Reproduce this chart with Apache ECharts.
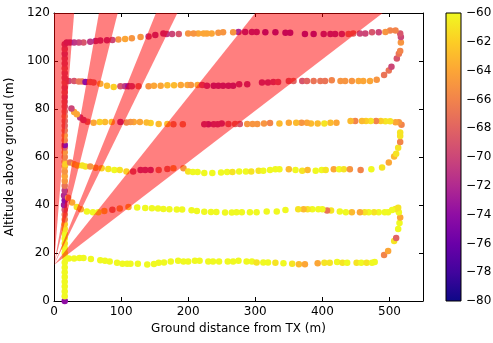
<!DOCTYPE html>
<html>
<head>
<meta charset="utf-8">
<script src="https://cdn.jsdelivr.net/npm/echarts@6/dist/echarts.min.js"></script>
<style>
  html, body { margin: 0; padding: 0; background: #fff; }
  #chart { width: 493px; height: 343px; }
</style>
</head>
<body>
<div id="chart"></div>
<script>
// flight path samples: [ground distance (m), altitude (m), RSSI (dBm)]
var climbLeft = [
	[16, 0, -74], [16, 2, -60], [16, 4, -60], [16, 6, -60], [16, 8, -60], [16, 10, -60], [16, 12, -60],
	[16, 14, -60], [16, 16, -60], [17, 18, -60], [16, 20, -60], [16, 22, -60], [16, 24, -61], [16, 26, -60],
	[16, 28, -60], [16, 30, -61], [16, 32, -62], [16, 34, -66], [16, 36, -67], [16, 38, -69], [15, 40, -73],
	[16, 42, -74], [15, 44, -72], [16, 46, -71], [16, 48, -67], [16, 50, -65], [16, 52, -64], [16, 54, -65],
	[16, 56, -64], [16, 58, -65], [16, 60, -66], [16, 62, -65], [16, 64, -68], [16, 65, -74], [16, 67, -66],
	[16, 69, -65], [16, 71, -67], [16, 73, -68], [16, 75, -68], [16, 77, -67], [16, 79, -68], [16, 81, -69],
	[16, 83, -69], [16, 85, -70], [16, 87, -69], [16, 89, -70], [16, 91, -69], [16, 93, -70], [16, 95, -70],
	[16, 97, -69], [16, 99, -70], [16, 101, -70], [16, 103, -71], [16, 105, -70], [16, 107, -71]
];
var pass16 = [
	[22, 17.7, -60], [30, 17.7, -60], [38, 17.9, -60], [44, 17.9, -60], [55, 17.5, -60], [69, 17, -60],
	[76, 16.8, -60], [83, 16.5, -60], [94, 15.9, -60], [102, 15.5, -60], [109, 15.5, -60], [114, 15.5, -60],
	[125, 15.5, -60], [139, 15.2, -60], [149, 15.4, -60], [156, 15.9, -60], [164, 16, -60], [174, 16.5, -60],
	[185, 16.8, -60], [193, 16.5, -60], [200, 16.5, -60], [210, 16.8, -60], [217, 16.8, -60], [230, 16.5, -60],
	[237, 16.5, -60], [246, 16.5, -60], [259, 16.5, -60], [267, 16.5, -60], [275, 16.8, -60], [287, 16.5, -60],
	[295, 16.5, -60], [302, 16, -61], [312, 16, -60], [319, 16, -60], [330, 15.9, -61], [342, 15.7, -60],
	[355, 15.5, -61], [365, 15.3, -63], [374, 15.3, -64], [393, 15.7, -64], [403, 15.9, -61], [411, 15.9, -61],
	[422, 16.2, -60], [430, 15.9, -61], [437, 15.9, -60], [451, 15.9, -61], [458, 15.9, -60], [466, 15.9, -61],
	[474, 15.9, -60], [478, 16.2, -60]
];
var turnRight1 = [
	[492, 19.2, -66], [498, 20.8, -64], [507, 25, -61], [510, 26.2, -68], [513, 30, -60], [515, 32.5, -60],
	[516, 34.8, -64], [514, 37, -60], [513, 38.9, -61]
];
var pass37 = [
	[509, 38.3, -61], [504, 37.9, -60], [498, 37, -60], [493, 37, -60], [484, 37, -60], [477, 37, -61],
	[469, 37, -60], [463, 37, -61], [456, 37, -64], [444, 37, -63], [435, 37, -60], [426, 37.3, -60],
	[413, 37.7, -61], [407, 37.7, -67], [400, 38.2, -60], [394, 38.2, -60], [385, 38.2, -60], [378, 38.2, -61],
	[372, 38.2, -63], [364, 38.2, -61], [345, 37.9, -60], [332, 37.3, -60], [317, 37.3, -60], [302, 37, -60],
	[292, 37, -60], [280, 37, -60], [272, 37, -60], [265, 36.9, -60], [255, 36.9, -60], [242, 37.1, -60],
	[234, 37.1, -60], [224, 37.2, -60], [213, 37.5, -60], [205, 37.8, -60], [191, 38.1, -60], [183, 38.1, -60],
	[172, 38.2, -60], [163, 38.3, -60], [155, 38.5, -60], [146, 38.6, -60], [136, 38.8, -60], [124, 39, -60],
	[111, 39.2, -64], [98, 38.5, -65], [87, 38, -68], [75, 37.5, -63], [66, 37, -60], [58, 37, -60],
	[49, 37.3, -60], [40, 38.2, -64], [34, 39.2, -61], [27, 41, -64], [21, 43, -66]
];
var pass54 = [
	[17, 57, -62], [24, 57.7, -67], [30, 57, -64], [35, 56.5, -62], [42, 56.5, -61], [47, 56, -61],
	[54, 56, -65], [62, 55.5, -64], [71, 55.3, -62], [81, 55, -61], [90, 54.6, -60], [98, 54.6, -61],
	[108, 54, -62], [118, 54, -70], [129, 54.6, -72], [136, 54.6, -72], [144, 54.6, -72], [156, 54.6, -68],
	[169, 55, -68], [178, 55.3, -65], [193, 55.3, -65], [200, 54, -61], [207, 53.7, -60], [214, 53.7, -60],
	[224, 53.3, -60], [236, 53.3, -60], [249, 53.5, -60], [258, 53.7, -60], [266, 53.7, -61], [276, 54, -60],
	[286, 54, -60], [294, 54, -61], [305, 54.3, -61], [312, 54.3, -60], [322, 54.6, -60], [330, 54.9, -60],
	[336, 54.9, -60], [350, 54.9, -63], [360, 54.6, -60], [370, 54.3, -61], [378, 54.6, -63], [390, 54.3, -60],
	[399, 54.6, -60], [405, 54.6, -61], [417, 54.9, -64], [425, 54.9, -60], [432, 54.9, -61], [441, 54.9, -65],
	[457, 54.6, -66], [473, 54.9, -60], [489, 55.6, -61]
];
var turnRight2 = [
	[499, 57.7, -64], [507, 60.2, -63], [510, 61.4, -61], [513, 63.9, -61], [516, 66.3, -66], [516, 68.8, -61],
	[516, 70.2, -61], [518, 73.4, -66]
];
var pass74 = [
	[514, 74.5, -65], [509, 74.5, -64], [501, 74.9, -61], [494, 74.9, -61], [487, 75, -62], [480, 75, -66],
	[472, 75, -61], [465, 75, -62], [459, 75, -63], [449, 75, -66], [442, 75, -63], [421, 74.3, -64],
	[412, 74.3, -63], [403, 74, -61], [393, 74, -63], [383, 74, -63], [377, 74.3, -64], [369, 74.3, -65],
	[361, 74.3, -63], [350, 74.3, -64], [336, 74, -63], [322, 74.2, -66], [313, 74, -65], [303, 73.8, -65],
	[296, 73.8, -65], [288, 73.8, -65], [277, 73.8, -69], [270, 73.8, -68], [260, 73.8, -69], [250, 74, -72],
	[244, 73.6, -72], [238, 73.6, -72], [230, 73.6, -73], [224, 73.6, -72], [192, 73.6, -67], [178, 73.6, -67],
	[169, 73.8, -63], [156, 73.8, -63], [144, 74.2, -62], [138, 74.4, -63], [128, 74.6, -64], [119, 74.6, -64],
	[114, 74.6, -65], [108, 74.4, -66], [99, 74.6, -72], [86, 74.6, -63], [76, 74.6, -63], [68, 74.6, -62],
	[59, 74.3, -64], [50, 74.7, -68], [44, 75.4, -71], [39, 76.5, -71], [34, 77.8, -64], [30, 78.8, -64],
	[26, 80.2, -70]
];
var pass90 = [
	[22, 91.7, -70], [30, 91.7, -69], [37, 91.5, -67], [42, 91.5, -67], [47, 91.3, -74], [54, 91.3, -68],
	[59, 91, -68], [69, 90.5, -64], [79, 89.7, -63], [89, 89.2, -62], [99, 89.5, -69], [106, 89.5, -71],
	[111, 89.5, -74], [116, 89.5, -71], [126, 89.5, -68], [141, 89.5, -65], [149, 89.7, -64], [159, 89.7, -64],
	[169, 89.9, -63], [179, 89.9, -63], [189, 90, -64], [199, 90, -64], [204, 90, -65], [214, 90, -64],
	[221, 90, -70], [228, 89.7, -72], [238, 89.7, -73], [245, 89.7, -73], [252, 89.7, -73], [260, 89.7, -73],
	[267, 89.7, -73], [276, 90.3, -72], [288, 90.3, -72], [310, 91, -72], [319, 91, -72], [327, 91.3, -71],
	[334, 91.3, -70], [350, 91.7, -69], [357, 91.7, -68], [370, 91.7, -69], [377, 91.7, -68], [387, 91.7, -67],
	[397, 91.7, -67], [404, 91.7, -67], [414, 92, -66], [427, 91.7, -65], [434, 91.7, -65], [444, 91.7, -65],
	[454, 91.7, -64], [461, 91.7, -64], [471, 91.7, -64], [481, 92.2, -65]
];
var turnRight3 = [
	[492, 94.2, -67], [499, 96, -67], [503, 97.6, -70], [511, 101, -69], [514, 103, -67], [516, 104.2, -66],
	[517, 107.7, -65], [517, 110, -70]
];
var pass108 = [
	[516, 111.5, -69], [509, 112.7, -66], [501, 112.7, -66], [494, 112.1, -65], [484, 112, -70], [474, 112, -69],
	[464, 111.5, -70], [456, 111.5, -70], [446, 111.5, -68], [439, 111.2, -68], [429, 111.2, -72], [419, 111.2, -73],
	[412, 111.2, -73], [402, 111.2, -73], [387, 111.2, -74], [374, 111.2, -74], [352, 111.8, -74], [345, 111.8, -74],
	[330, 112, -74], [315, 112, -74], [302, 112.1, -73], [295, 112.1, -73], [285, 112.1, -73], [275, 112.1, -72],
	[267, 112, -65], [252, 112, -65], [245, 111.8, -65], [235, 111.5, -64], [228, 111.5, -64], [223, 111.5, -64],
	[215, 111.5, -64], [208, 111.5, -65], [200, 111.5, -65], [186, 111.3, -69], [176, 111.3, -70], [168, 111.2, -71],
	[163, 111.5, -72], [151, 110.8, -72], [141, 110.2, -71], [129, 110, -65], [116, 109.5, -65], [106, 109.2, -64],
	[96, 109, -65], [87, 108.8, -70], [79, 108.6, -72], [69, 108.5, -72], [62, 108.3, -72], [54, 108, -71],
	[44, 107.7, -69], [37, 107.7, -70], [30, 107.7, -71], [24, 107.7, -72], [19, 107.7, -72]
];

// antenna beams: apex at the TX mast, edges given by ground distance where they reach the top of the plot
var beamApex = [0, 15];
var beamTopAlt = 120;
var beamEdges = [[0, 30], [67, 95], [152, 184], [300, 490]];

var rssiRange = [-80, -60];
var plasma = ['#0d0887', '#41049d', '#6a00a8', '#8f0da4', '#b12a90', '#cc4778',
	'#e16462', '#f2844b', '#fca636', '#fcce25', '#f0f921'];

var flight = [].concat(climbLeft, pass16, turnRight1, pass37, pass54, turnRight2, pass74, pass90, turnRight3, pass108);
var beams = beamEdges.map(function (e) {
	return [beamApex[0], beamApex[1], e[0], e[1], beamTopAlt];
});

var font = 'DejaVu Sans';
var lineStyle = { color: '#000', width: 1 };
var labelStyle = { color: '#000', fontSize: 12, fontFamily: font };

var chart = echarts.init(document.getElementById('chart'));
var option = {
	animation: false,
	backgroundColor: '#fff',
	grid: [
		{ left: 54, top: 13, width: 369, height: 288, containLabel: false, outerBoundsMode: 'none' },
		{ left: 446, top: 13, width: 15, height: 288, containLabel: false, outerBoundsMode: 'none' }
	],
	visualMap: {
		type: 'continuous',
		show: false,
		seriesIndex: 0,
		dimension: 2,
		min: rssiRange[0],
		max: rssiRange[1],
		inRange: { color: plasma }
	},
	xAxis: [{
		type: 'value',
		gridIndex: 0,
		min: 0,
		max: 550,
		interval: 100,
		name: 'Ground distance from TX (m)',
		nameLocation: 'middle',
		nameGap: 21,
		nameTextStyle: labelStyle,
		axisLine: { onZero: false, lineStyle: lineStyle },
		axisTick: { inside: true, length: 4, lineStyle: lineStyle },
		axisLabel: Object.assign({ margin: 5, showMaxLabel: false }, labelStyle),
		splitLine: { show: false }
	}, {
		type: 'value',
		gridIndex: 0,
		position: 'top',
		min: 0,
		max: 550,
		interval: 100,
		axisLine: { onZero: false, lineStyle: lineStyle },
		axisTick: { inside: true, length: 4, lineStyle: lineStyle },
		axisLabel: { show: false },
		splitLine: { show: false }
	}, {
		type: 'value',
		gridIndex: 1,
		min: 0,
		max: 1,
		show: false
	}],
	yAxis: [{
		type: 'value',
		gridIndex: 0,
		min: 0,
		max: 120,
		interval: 20,
		name: 'Altitude above ground (m)',
		nameLocation: 'middle',
		nameGap: 31,
		nameTextStyle: labelStyle,
		axisLine: { onZero: false, lineStyle: lineStyle },
		axisTick: { inside: true, length: 4, lineStyle: lineStyle },
		axisLabel: Object.assign({ margin: 4 }, labelStyle),
		splitLine: { show: false }
	}, {
		type: 'value',
		gridIndex: 0,
		position: 'right',
		min: 0,
		max: 120,
		interval: 20,
		axisLine: { onZero: false, lineStyle: lineStyle },
		axisTick: { inside: true, length: 4, lineStyle: lineStyle },
		axisLabel: { show: false },
		splitLine: { show: false }
	}, {
		type: 'value',
		gridIndex: 1,
		position: 'right',
		min: rssiRange[0],
		max: rssiRange[1],
		interval: 2,
		axisLine: { show: false },
		axisTick: { show: false },
		axisLabel: Object.assign({
			margin: 5,
			formatter: function (v) { return v < 0 ? '\u2212' + Math.abs(v) : String(v); }
		}, labelStyle),
		splitLine: { show: false }
	}],
	series: [{
		type: 'scatter',
		xAxisIndex: 0,
		yAxisIndex: 0,
		symbolSize: 6.5,
		data: flight,
		itemStyle: { opacity: 1 },
		z: 2
	}, {
		type: 'custom',
		xAxisIndex: 0,
		yAxisIndex: 0,
		z: 3,
		data: beams,
		renderItem: function (params, api) {
			var apex = api.coord([api.value(0), api.value(1)]);
			var left = api.coord([api.value(2), api.value(4)]);
			var right = api.coord([api.value(3), api.value(4)]);
			return {
				type: 'polygon',
				shape: { points: [apex, left, right] },
				style: { fill: 'rgba(255,0,0,0.5)' }
			};
		}
	}, {
		type: 'custom',
		xAxisIndex: 2,
		yAxisIndex: 2,
		data: [[0, rssiRange[0], 1, rssiRange[1]]],
		renderItem: function (params, api) {
			var p0 = api.coord([api.value(0), api.value(3)]);
			var p1 = api.coord([api.value(2), api.value(1)]);
			var stops = plasma.map(function (c, i) {
				return { offset: i / (plasma.length - 1), color: c };
			});
			return {
				type: 'rect',
				shape: { x: p0[0], y: p0[1], width: p1[0] - p0[0], height: p1[1] - p0[1] },
				style: {
					fill: new echarts.graphic.LinearGradient(0, 1, 0, 0, stops),
					stroke: '#000',
					lineWidth: 1
				}
			};
		}
	}]
};
chart.setOption(option);
</script>
</body>
</html>
